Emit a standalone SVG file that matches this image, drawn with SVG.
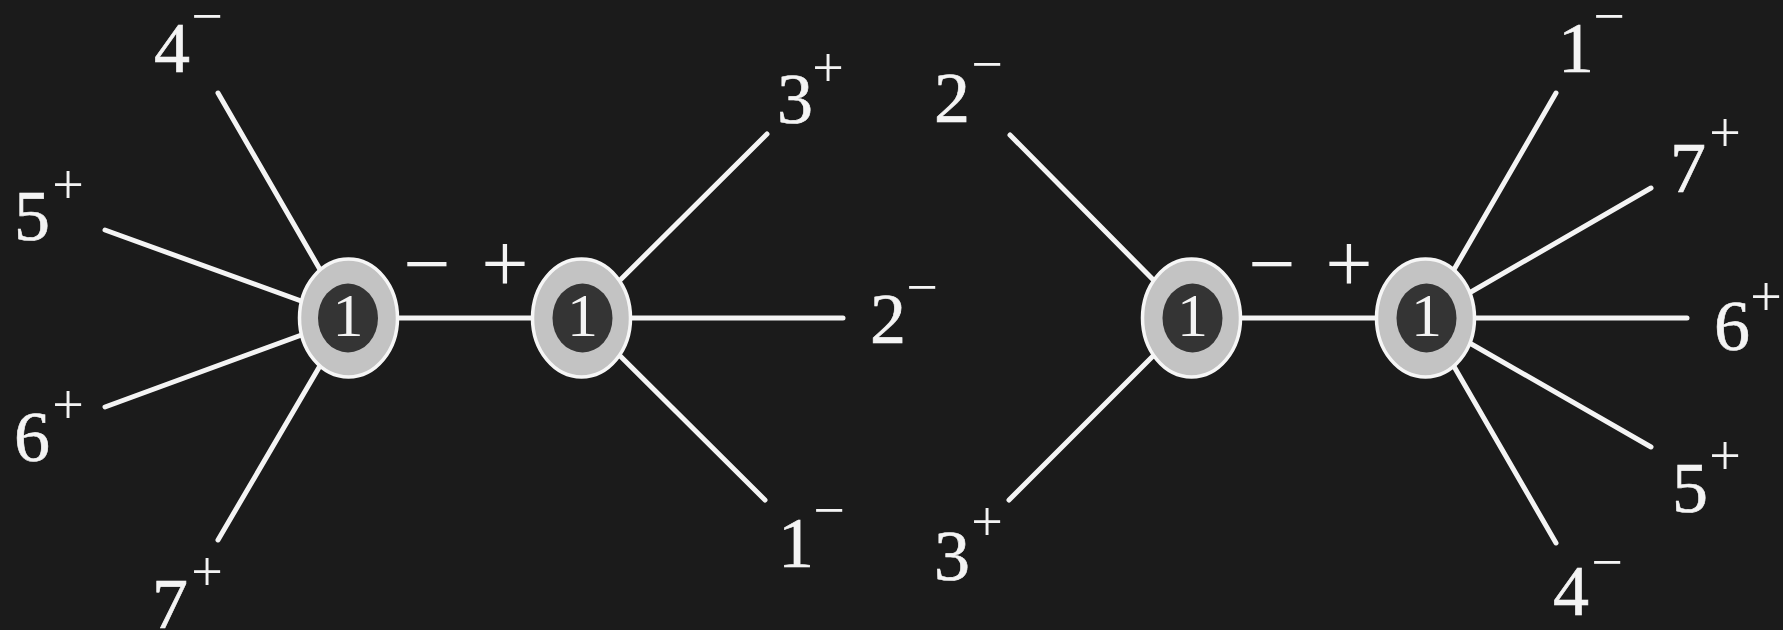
<svg xmlns="http://www.w3.org/2000/svg" width="1783" height="630" viewBox="0 0 1783 630">
<style>
.edge{stroke:#f4f4f4;stroke-width:5;stroke-linecap:round;fill:none}
.outer{fill:#c3c3c3;stroke:#f6f6f6;stroke-width:3.5}
.inner{fill:#343434}
.num{font-family:"Liberation Serif","Times New Roman",serif;fill:#f4f4f4;font-size:62px;text-anchor:middle}
.lab{font-family:"Liberation Serif","Times New Roman",serif;fill:#f4f4f4;font-size:72px;stroke:#f4f4f4;stroke-width:0.6}
.sup{font-family:"Liberation Serif","Times New Roman",serif;fill:#f4f4f4;font-size:56px;text-anchor:middle}
.sign{font-family:"Liberation Serif","Times New Roman",serif;fill:#f4f4f4;font-size:84px;text-anchor:middle}
</style>
<rect width="1783" height="630" fill="#1b1b1b"/>
<g id="connectors">
<line class="edge" x1="348" y1="318" x2="218" y2="93"/>
<line class="edge" x1="348" y1="318" x2="105" y2="230"/>
<line class="edge" x1="348" y1="318" x2="105" y2="407"/>
<line class="edge" x1="348" y1="318" x2="218" y2="540"/>
<line class="edge" x1="348" y1="318" x2="582" y2="318"/>
<line class="edge" x1="582" y1="318" x2="767" y2="134"/>
<line class="edge" x1="582" y1="318" x2="843" y2="318"/>
<line class="edge" x1="582" y1="318" x2="765" y2="500"/>
<line class="edge" x1="1191" y1="318" x2="1010" y2="135"/>
<line class="edge" x1="1191" y1="318" x2="1009" y2="500"/>
<line class="edge" x1="1191" y1="318" x2="1426" y2="318"/>
<line class="edge" x1="1426" y1="318" x2="1556" y2="93"/>
<line class="edge" x1="1426" y1="318" x2="1651" y2="188"/>
<line class="edge" x1="1426" y1="318" x2="1687" y2="318"/>
<line class="edge" x1="1426" y1="318" x2="1651" y2="447"/>
<line class="edge" x1="1426" y1="318" x2="1556" y2="543"/>
</g>
<g id="node-a">
<ellipse class="outer" cx="348.5" cy="318" rx="49" ry="59"/>
<ellipse class="inner" cx="348" cy="318" rx="30" ry="34.5"/>
<text class="num" x="348" y="336">1</text>
</g>
<g id="node-b">
<ellipse class="outer" cx="581.5" cy="318" rx="49" ry="59"/>
<ellipse class="inner" cx="582.5" cy="318" rx="30" ry="34.5"/>
<text class="num" x="582.5" y="336">1</text>
</g>
<g id="node-c">
<ellipse class="outer" cx="1191.5" cy="318" rx="49" ry="59"/>
<ellipse class="inner" cx="1192.5" cy="318" rx="30" ry="34.5"/>
<text class="num" x="1192.5" y="336">1</text>
</g>
<g id="node-d">
<ellipse class="outer" cx="1425.5" cy="318" rx="49" ry="59"/>
<ellipse class="inner" cx="1426.5" cy="318" rx="30" ry="34.5"/>
<text class="num" x="1426.5" y="336">1</text>
</g>
<g id="edge-signs">
<text class="sign" x="427" y="292">−</text>
<text class="sign" x="505" y="292">+</text>
<text class="sign" x="1272" y="292">−</text>
<text class="sign" x="1349" y="292">+</text>
</g>
<g id="labels-left">
<text class="lab" x="154" y="72">4</text><text class="sup" x="207" y="35">−</text>
<text class="lab" x="14" y="240">5</text><text class="sup" x="68" y="204">+</text>
<text class="lab" x="14" y="461">6</text><text class="sup" x="68" y="424">+</text>
<text class="lab" x="152" y="628">7</text><text class="sup" x="207" y="591">+</text>
<text class="lab" x="777" y="123">3</text><text class="sup" x="828" y="87">+</text>
<text class="lab" x="870" y="343">2</text><text class="sup" x="922" y="306">−</text>
<text class="lab" x="778" y="567">1</text><text class="sup" x="829" y="529">−</text>
</g>
<g id="labels-right">
<text class="lab" x="934" y="122">2</text><text class="sup" x="987" y="83">−</text>
<text class="lab" x="934" y="580">3</text><text class="sup" x="987" y="541">+</text>
<text class="lab" x="1558" y="72">1</text><text class="sup" x="1609" y="35">−</text>
<text class="lab" x="1670" y="192">7</text><text class="sup" x="1725" y="152">+</text>
<text class="lab" x="1714" y="350">6</text><text class="sup" x="1766" y="316">+</text>
<text class="lab" x="1672" y="512">5</text><text class="sup" x="1725" y="475">+</text>
<text class="lab" x="1553" y="615">4</text><text class="sup" x="1607" y="581">−</text>
</g>
</svg>
